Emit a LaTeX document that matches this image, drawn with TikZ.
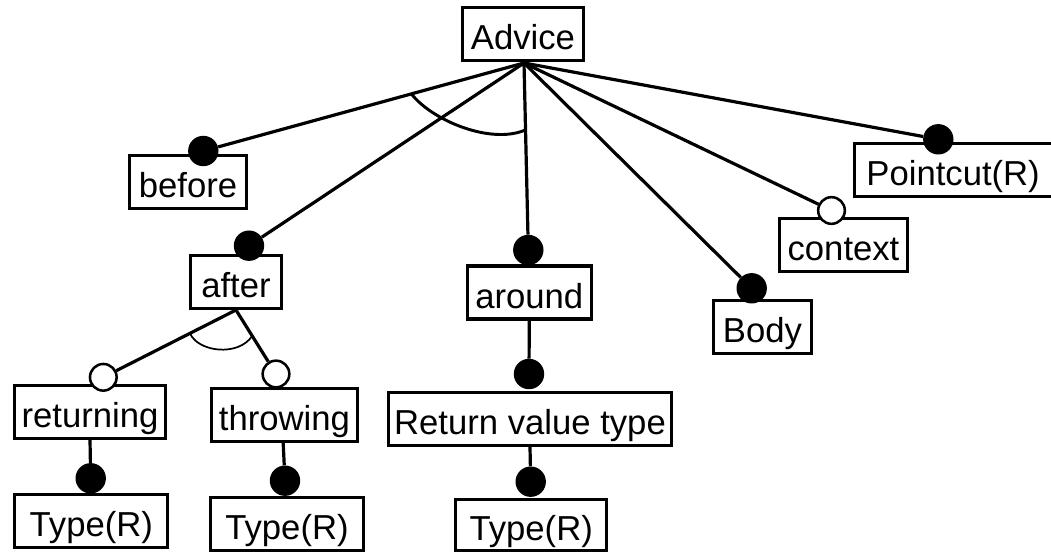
\documentclass[tikz,border=0pt]{standalone}
\usepackage{fontspec}
\setmainfont{Liberation Sans}
\begin{document}
\begin{tikzpicture}[x=0.75pt,y=-0.75pt,
  feat/.style={draw, line width=2.3pt, rectangle, inner sep=0pt,
    text height=23.4pt, text depth=0pt, minimum height=39.75pt,
    minimum width=#1, font=\fontsize{26}{30}\selectfont},
  mand/.style={circle, fill=black, inner sep=0pt, minimum size=22.8pt},
  opt/.style={circle, draw, fill=white, line width=1.9pt, inner sep=0pt, minimum size=20pt},
  edge/.style={line width=2.4pt},
  grp/.style={line width=2.2pt},
  subgrp/.style={line width=1.3pt}]
\useasboundingbox (0,0) rectangle (1051,555);

% feature boxes
\node[feat=90.75pt]  (advice)   at (523,34)    {Advice};
\node[feat=87.3pt]   (before)   at (188,182)   {before};
\node[feat=67.8pt]   (after)    at (236,281.7) {after};
\node[feat=92.8pt]   (around)   at (529.3,292.5) {around};
\node[feat=73pt]     (body)     at (762.5,327.3) {Body};
\node[feat=96.5pt]   (context)  at (843.5,244.7) {context};
\node[feat=154.4pt]  (pointcut) at (957.1,169.7) {\hspace*{-6pt}Pointcut(R)};
\node[feat=112.8pt]  (returning) at (90,412)   {returning};
\node[feat=109.5pt]  (throwing) at (284.5,414.7) {throwing};
\node[feat=211.8pt]  (rvt)      at (530,418.8) {Return value type};
\node[feat=114.75pt] (typeA)    at (91.3,521)  {Type(R)};
\node[feat=114.75pt] (typeB)    at (287,524.3) {Type(R)};
\node[feat=113.5pt, minimum height=38.25pt] (typeC) at (531.2,525.3) {Type(R)};

% mandatory / optional markers
\node[mand] (mBefore)   at (203.3,151)   {};
\node[mand] (mAfter)    at (249,245.7)   {};
\node[mand] (mAround)   at (528.3,250)   {};
\node[mand] (mBody)     at (751.7,288.3) {};
\node[opt]  (oContext)  at (831.5,210.5) {};
\node[mand] (mPointcut) at (938.3,139.3) {};
\node[opt]  (oReturning) at (103.3,377.3) {};
\node[opt]  (oThrowing) at (276,374)     {};
\node[mand] (mTypeA)    at (90.7,478.3)  {};
\node[mand] (mTypeB)    at (285,480.7)   {};
\node[mand] (mRvt)      at (529,374)     {};
\node[mand] (mTypeC)    at (530.7,481.7) {};

% edges from Advice
\coordinate (apex) at (524,63);
\foreach \t in {mBefore,mAfter,mAround,mBody,oContext,mPointcut}
  \draw[edge] (apex) -- (\t);

% edges below
\coordinate (afterfoot) at (236,310);
\draw[edge] (afterfoot) -- (oReturning);
\draw[edge] (afterfoot) -- (oThrowing);
\draw[edge] (returning.south) -- (mTypeA);
\draw[edge] ([xshift=-1pt]throwing.south) -- (mTypeB);
\draw[edge] (around.south) -- (mRvt);
\draw[edge] (rvt.south) -- (mTypeC);

% group arcs
\draw[grp] (411.7,94.3) .. controls (432,120) and (490,145) .. (525.4,130);
\draw[subgrp] (190,333.3) .. controls (198,352) and (238,357) .. (252.2,336);
\end{tikzpicture}
\end{document}
